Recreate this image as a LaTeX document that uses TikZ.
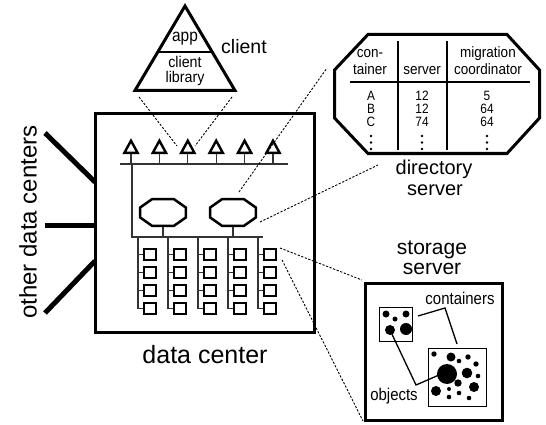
\documentclass[tikz,border=0pt]{standalone}
\usepackage{fontspec}
\setmainfont{Liberation Sans}
\newcommand{\fz}[1]{\fontsize{#1}{#1}\selectfont}
\begin{document}
\begin{tikzpicture}[x=1pt,y=-1pt,
  txt/.style={inner sep=0pt, anchor=base},
  coltxt/.style={inner sep=0pt, anchor=north, align=center, font=\fontsize{13.5}{12.8}\selectfont, xscale=0.88},
  heavy/.style={line width=3pt, line join=miter},
  bus/.style={line width=1.3pt, black!80},
  dashedlink/.style={line width=0.9pt, dash pattern=on 2.2pt off 1.6pt},
  smalltri/.style={line width=2.4pt, line join=miter},
  octline/.style={line width=2.5pt, line join=miter},
  srvbox/.style={draw, line width=2.2pt, minimum width=11.8pt, minimum height=10.8pt, inner sep=0pt},
  thinbox/.style={line width=1.5pt},
  pointer/.style={line width=1.3pt},
  blob/.style={fill=black, draw=none}]
\useasboundingbox (0,0) rectangle (546,425);

% ---------- client triangle ----------
\coordinate (capex) at (185,6);
\coordinate (cbl) at (135,90.5);
\coordinate (cbr) at (235,90.5);
\draw[heavy] (capex) -- (cbr) -- (cbl) -- cycle;
\draw[line width=2.5pt] (157.8,52) -- (212.2,52);
\node[txt, font=\fz{17.5}, xscale=0.88] (app) at (185,41.5) {app};
\node[txt, font=\fz{15.5}, xscale=0.92] (cl1) at (185,67.5) {client};
\node[txt, font=\fz{15.5}, xscale=0.92] (cl2) at (185,82.5) {library};
\node[txt, anchor=base west, font=\fz{19.5}] (clientlbl) at (221,54) {client};

% ---------- data center ----------
\draw[heavy] (95,114) rectangle (314,332);
\node[txt, font=\fz{25}] (dclbl) at (205,363) {data center};
\node[inner sep=0pt, rotate=90, font=\fz{24}] (odc) at (28,222) {other data centers};
\coordinate (o1a) at (45,133); \coordinate (o1b) at (95,182);
\coordinate (o2a) at (45,225); \coordinate (o2b) at (95,225);
\coordinate (o3a) at (45,313); \coordinate (o3b) at (95,261);
\draw[line width=5pt] (o1a) -- (o1b);
\draw[line width=5pt] (o2a) -- (o2b);
\draw[line width=5pt] (o3a) -- (o3b);

% small client triangles on the front-end bus
\coordinate (busL) at (120,164);
\coordinate (busR) at (288,164);
\draw[bus] (busL) -- (busR);
\foreach \i in {0,...,5}{
  \pgfmathsetmacro{\tx}{131+28.4*\i}
  \coordinate (t\i) at (\tx,146);
  \draw[smalltri] (\tx,140.7) -- (\tx+6.6,152.8) -- (\tx-6.6,152.8) -- cycle;
  \draw[bus] (\tx,154) -- (\tx,164);
}
% lower bus
\coordinate (vtop) at (132,164);
\coordinate (vbot) at (132,237);
\coordinate (lbusR) at (263,237);
\draw[bus] (vtop) -- (vbot) -- (lbusR);

% directory server octagons
\foreach \dx/\nm in {0/d1,70/d2}{
  \begin{scope}[xshift=\dx pt]
    \draw[octline] (152,199.2) -- (174,199.2) -- (185.8,207.5) -- (185.8,217.5) -- (174,225.8) -- (152,225.8) -- (140.2,217.5) -- (140.2,207.5) -- cycle;
    \draw[bus] (163,227) -- (163,237);
  \end{scope}
}
\coordinate (d2top) at (239,192);
\coordinate (d2right) at (260,222);

% storage server columns
\foreach \j in {0,...,4}{
  \pgfmathsetmacro{\cx}{138+30*\j}
  \draw[bus] (\cx,237) -- (\cx,308.5);
  \foreach \r in {0,...,3}{
    \pgfmathsetmacro{\cy}{254.5+17.9*\r}
    \node[srvbox] (s\j\r) at (\cx+12,\cy) {};
    \draw[bus] (\cx,\cy) -- (s\j\r.west);
  }
}

% client dashed pointers
\coordinate (cdl) at (139,97);
\coordinate (cdr) at (232,97);
\coordinate (t2l) at (177,146);
\coordinate (t2r) at (195,146);
\draw[dashedlink] (cdl) -- (t2l);
\draw[dashedlink] (cdr) -- (t2r);

% ---------- directory table ----------
\draw[heavy] (368,34.5) -- (507,34.5) -- (539.5,70) -- (539.5,118) -- (507,153.5) -- (368,153.5) -- (334.5,118) -- (334.5,70) -- cycle;
\coordinate (dirtab) at (327,68);
\draw[line width=1.5pt] (398,41) -- (398,150);
\draw[line width=1.5pt] (447,41) -- (447,150);
\draw[line width=2.5pt] (350,82) -- (530,82);
\node[txt, font=\fz{15}, xscale=0.9] (h1a) at (370,57.5) {con-};
\node[txt, font=\fz{15}, xscale=0.9] (h1b) at (370,75) {tainer};
\node[txt, font=\fz{15}, xscale=0.9] (h2) at (422,75) {server};
\node[txt, font=\fz{15}, xscale=0.9] (h3a) at (488,57.5) {migration};
\node[txt, font=\fz{15}, xscale=0.9] (h3b) at (488,75) {coordinator};
\node[coltxt] (colA) at (371,91.3) {A\\B\\C};
\node[coltxt] (colB) at (422,91.3) {12\\12\\74};
\node[coltxt] (colC) at (487,91.3) {5\\64\\64};
\foreach \dxx in {371,422,487}{
  \foreach \dyy in {136,142.5,149}{
    \fill (\dxx,\dyy) circle (1.3pt);
  }
}
\node[txt, font=\fz{20}] (dirl1) at (434,174.5) {directory};
\node[txt, font=\fz{20}] (dirl2) at (435,195.5) {server};
\coordinate (dirlblL) at (378,165);
\draw[dashedlink] (d2top) -- (dirtab);
\draw[dashedlink] (d2right) -- (dirlblL);

% ---------- storage server ----------
\draw[heavy] (365.5,283.5) rectangle (502.5,420.5);
\node[txt, font=\fz{21}] (stl1) at (432,254) {storage};
\node[txt, font=\fz{21}] (stl2) at (432,274) {server};
\coordinate (sA) at (280,248);
\coordinate (sB) at (282,260);
\coordinate (stTL) at (362,280);
\coordinate (stBL) at (363,421);
\draw[dashedlink] (sA) -- (stTL);
\draw[dashedlink] (sB) -- (stBL);

% containers
\draw[thinbox] (379.5,307.5) rectangle (412.5,341.5);
\draw[thinbox] (428.5,348.5) rectangle (486.5,406.5);
\foreach \px/\py/\pr in {386/314/3.5, 395/319/2.5, 406/314/3.5, 390/330/5, 406/329/6}{
  \fill[blob] (\px,\py) circle (\pr pt);
}
\foreach \px/\py/\pr in {434/354/2.7, 451/357/4.5, 459/361/2.3, 468/357/2.7, 476/364/2.7,
  447/374/10, 467/373/5.3, 478/376/2.3, 458/383/3.7, 436/391/5, 449/389/2,
  459/393/2.3, 474/387/5, 449/397/2.3, 469/398/2.3}{
  \fill[blob] (\px,\py) circle (\pr pt);
}
\node[txt, font=\fz{17}, xscale=0.88] (contl) at (460,304) {containers};
\node[txt, font=\fz{17}, xscale=0.88] (objl) at (394,400) {objects};
\draw[pointer] (418,316) -- (445,308) -- (457,344);
\draw[pointer] (390,330) -- (416,385) -- (439,375);
\end{tikzpicture}
\end{document}
